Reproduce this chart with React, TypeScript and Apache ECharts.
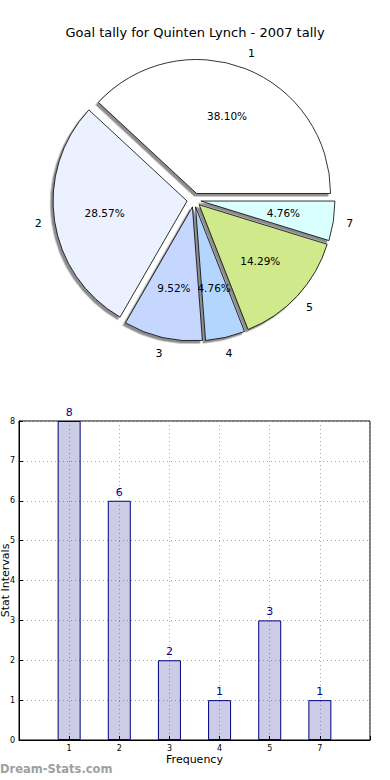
import React, { useEffect, useRef } from "react";
import * as echarts from "echarts";

const titleText = "Goal tally for Quinten Lynch - 2007 tally";
const categories = ["1", "2", "3", "4", "5", "7"];
const counts = [8, 6, 2, 1, 3, 1];
const sliceColors = ["#ffffff", "#ebf1ff", "#c5d7ff", "#b3d6ff", "#d0e98b", "#daffff"];
const yTicks = [0, 1, 2, 3, 4, 5, 6, 7, 8];
const xAxisName = "Frequency";
const yAxisName = "Stat Intervals";
const watermark = "Dream-Stats.com";

const FONT = "DejaVu Sans";

export default function App() {
  const ref = useRef<HTMLDivElement>(null);
  useEffect(() => {
    if (!ref.current) return;
    const chart = echarts.init(ref.current, undefined, { renderer: "svg" });
    const R = 134;
    const center = [194, 200];
    const offset = 7;
    const pieData = categories.map((c, i) => ({
      name: c,
      value: counts[i],
      selected: true,
      itemStyle: { color: sliceColors[i] },
    }));
    const transparentData = categories.map((c, i) => ({
      name: c,
      value: counts[i],
      selected: true,
      itemStyle: { color: "rgba(0,0,0,0)" },
    }));
    const option: any = {
      animation: false,
      title: {
        text: titleText,
        left: "center",
        top: 21,
        textStyle: { fontFamily: FONT, fontSize: 13, fontWeight: "normal", color: "#000" },
      },
      grid: {
        left: 19,
        right: 20,
        top: 421,
        bottom: 40,
        containLabel: false,
        outerBoundsMode: "none",
        show: true,
        borderColor: "#000",
        borderWidth: 1,
        backgroundColor: "transparent",
      },
      xAxis: {
        type: "value",
        min: 0,
        max: categories.length + 1,
        interval: 1,
        name: xAxisName,
        nameLocation: "middle",
        nameGap: 14,
        nameMoveOverlap: false,
        nameTextStyle: { fontFamily: FONT, fontSize: 11, color: "#000" },
        axisLine: { show: true, lineStyle: { color: "#000", width: 1 } },
        axisTick: { show: true, inside: true, length: 4, lineStyle: { color: "#000" } },
        axisLabel: {
          fontFamily: FONT,
          fontSize: 8,
          color: "#000",
          margin: 4,
          formatter: (v: number) => (v >= 1 && v <= categories.length ? categories[v - 1] : ""),
        },
        splitLine: { show: true, lineStyle: { color: "#aaa", type: [1, 3], width: 1 } },
      },
      yAxis: {
        type: "value",
        min: yTicks[0],
        max: yTicks[yTicks.length - 1],
        interval: 1,
        name: yAxisName,
        nameLocation: "middle",
        nameGap: 8,
        nameMoveOverlap: false,
        nameTextStyle: { fontFamily: FONT, fontSize: 11, color: "#000" },
        axisLine: { show: true, lineStyle: { color: "#000", width: 1 } },
        axisTick: { show: true, inside: true, length: 4, lineStyle: { color: "#000" } },
        axisLabel: { fontFamily: FONT, fontSize: 8, color: "#000", margin: 4 },
        splitLine: { show: true, lineStyle: { color: "#aaa", type: [1, 3], width: 1 } },
      },
      graphic: [
        {
          type: "text",
          left: 0,
          top: 763,
          style: {
            text: watermark,
            fontFamily: FONT,
            fontSize: 11.5,
            fontWeight: "bold",
            fill: "#a0a0a0",
          },
        },
      ],
      series: [
        {
          type: "pie",
          center,
          radius: R,
          startAngle: 0,
          clockwise: false,
          selectedMode: "multiple",
          selectedOffset: offset,
          avoidLabelOverlap: false,
          silent: true,
          data: pieData,
          label: { show: false },
          labelLine: { show: false },
          itemStyle: {
            borderColor: "#000",
            borderWidth: 0.8,
            shadowColor: "rgba(0,0,0,0.45)",
            shadowBlur: 0,
            shadowOffsetX: -2.5,
            shadowOffsetY: 2.5,
          },
          select: { itemStyle: { borderColor: "#000", borderWidth: 0.8 } },
          emphasis: { disabled: true },
          z: 2,
        },
        {
          type: "pie",
          center,
          radius: [R * 0.2, R],
          startAngle: 0,
          clockwise: false,
          selectedMode: "multiple",
          selectedOffset: offset,
          avoidLabelOverlap: false,
          silent: true,
          data: transparentData,
          itemStyle: { borderWidth: 0 },
          select: { itemStyle: { borderWidth: 0 } },
          emphasis: { disabled: true },
          labelLine: { show: false },
          label: {
            show: true,
            position: "inside",
            fontFamily: FONT,
            fontSize: 10.5,
            color: "#000",
            formatter: (p: any) => p.percent.toFixed(2) + "%",
          },
          z: 3,
        },
        {
          type: "pie",
          center,
          radius: [R, R * 1.2],
          startAngle: 0,
          clockwise: false,
          selectedMode: "multiple",
          selectedOffset: offset,
          avoidLabelOverlap: false,
          silent: true,
          data: transparentData,
          itemStyle: { borderWidth: 0 },
          select: { itemStyle: { borderWidth: 0 } },
          emphasis: { disabled: true },
          labelLine: { show: false },
          label: {
            show: true,
            position: "inside",
            fontFamily: FONT,
            fontSize: 11,
            color: "#000",
            formatter: "{b}",
          },
          z: 3,
        },
        {
          type: "bar",
          data: categories.map((c, i) => [i + 1, counts[i]]),
          barWidth: 23,
          itemStyle: {
            color: "rgba(0,0,128,0.2)",
            borderColor: "#000080",
            borderWidth: 1,
          },
          label: {
            show: true,
            position: "top",
            distance: 3,
            fontFamily: FONT,
            fontSize: 11,
            color: "#00008b",
            formatter: (p: any) => String(p.value[1]),
          },
          emphasis: { disabled: true },
          z: 1,
        },
      ],
    };
    chart.setOption(option);
    return () => chart.dispose();
  }, []);
  return (
    <div
      ref={ref}
      style={{ position: "fixed", left: 0, top: 0, width: 390, height: 780, background: "#fff" }}
    />
  );
}
